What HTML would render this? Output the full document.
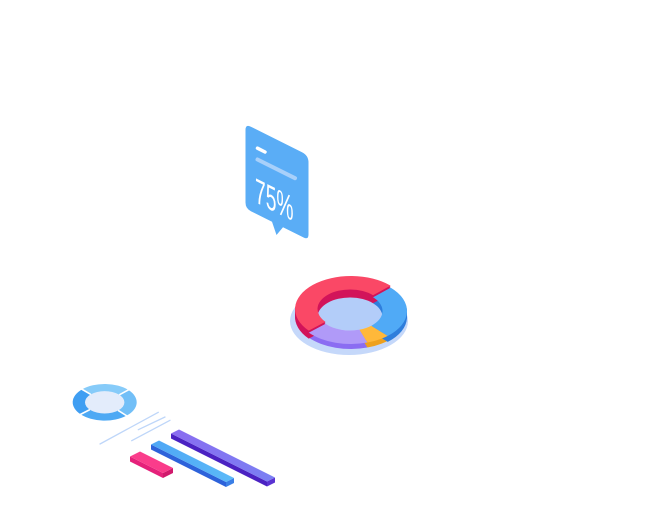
<!DOCTYPE html>
<html>
<head>
<meta charset="utf-8">
<style>
  html, body { margin: 0; padding: 0; background: #ffffff; }
  body { width: 671px; height: 505px; overflow: hidden; }
  svg { display: block; }
</style>
</head>
<body>
<svg width="671" height="505" viewBox="0 0 671 505" xmlns="http://www.w3.org/2000/svg">
  <defs>
    <path id="segR" d="M308.74,332.65 A56,33 0 0 1 390.60,287.67 L372.98,297.21 A32.5,19.5 0 0 0 325.47,323.79 Z"/>
    <path id="segB" d="M390.60,287.67 A56,33 0 0 1 387.74,335.91 L371.32,325.72 A32.5,19.5 0 0 0 372.98,297.21 Z"/>
    <path id="segY" d="M387.74,335.91 A56,33 0 0 1 367.37,342.56 L359.50,329.65 A32.5,19.5 0 0 0 371.32,325.72 Z"/>
    <path id="segP" d="M367.37,342.56 A56,33 0 0 1 308.74,332.65 L325.47,323.79 A32.5,19.5 0 0 0 359.50,329.65 Z"/>
    <linearGradient id="gPurple" x1="0" y1="0" x2="1" y2="0">
      <stop offset="0" stop-color="#8a6cf0"/>
      <stop offset="1" stop-color="#7a80f3"/>
    </linearGradient>
    <linearGradient id="gBlue" x1="0" y1="0" x2="1" y2="0">
      <stop offset="0" stop-color="#4ea6f5"/>
      <stop offset="1" stop-color="#5cbaf8"/>
    </linearGradient>
    <linearGradient id="gPink" x1="0" y1="0" x2="1" y2="0">
      <stop offset="0" stop-color="#fb3f8c"/>
      <stop offset="1" stop-color="#f93a8a"/>
    </linearGradient>
  </defs>

  <!-- ===== Card with 75% ===== -->
  <path d="M245.5,130 Q245.5,124 250.9,126.7 L302,152.3 Q308.5,155.5 308.5,162.5 L308.5,234.5 Q308.5,240 303.6,237.5 L283,227.25 L276.5,235 L272,221.75 L250.9,211.2 Q245.5,208.5 245.5,202.5 Z" fill="#5aadf6"/>
  <line x1="257.5" y1="148.2" x2="265" y2="152" stroke="#ffffff" stroke-width="3.5" stroke-linecap="round"/>
  <line x1="257.5" y1="159.5" x2="295" y2="178.2" stroke="#a8d0fa" stroke-width="4" stroke-linecap="round"/>
  <g transform="translate(255,202) skewY(26.565) scale(0.55,1)">
    <text x="0" y="0" font-family="Liberation Sans, sans-serif" font-size="35" fill="#ffffff">75%</text>
  </g>

  <!-- ===== 3D donut chart ===== -->
  <ellipse cx="349" cy="321" rx="59" ry="34" fill="#c5d8fa"/>
  <ellipse cx="350" cy="311" rx="32.5" ry="19.5" fill="#b3cdf9"/>

  <g>
    <use href="#segP" transform="translate(0,5)" fill="#8b6df2"/>
    <use href="#segP" transform="translate(0,4)" fill="#8b6df2"/>
    <use href="#segP" transform="translate(0,3)" fill="#8b6df2"/>
    <use href="#segP" transform="translate(0,2)" fill="#8b6df2"/>
    <use href="#segP" transform="translate(0,1)" fill="#8b6df2"/>

    <use href="#segY" transform="translate(0,5)" fill="#eea11e"/>
    <use href="#segY" transform="translate(0,4)" fill="#eea11e"/>
    <use href="#segY" transform="translate(0,3)" fill="#eea11e"/>
    <use href="#segY" transform="translate(0,2)" fill="#eea11e"/>
    <use href="#segY" transform="translate(0,1)" fill="#eea11e"/>

    <use href="#segB" transform="translate(0,6)" fill="#2f7edc"/>
    <use href="#segB" transform="translate(0,5)" fill="#2f7edc"/>
    <use href="#segB" transform="translate(0,4)" fill="#2f7edc"/>
    <use href="#segB" transform="translate(0,3)" fill="#2f7edc"/>
    <use href="#segB" transform="translate(0,2)" fill="#2f7edc"/>
    <use href="#segB" transform="translate(0,1)" fill="#2f7edc"/>

    <use href="#segR" transform="translate(0,6)" fill="#d2145a"/>
    <use href="#segR" transform="translate(0,5)" fill="#d2145a"/>
    <use href="#segR" transform="translate(0,4)" fill="#d2145a"/>
    <use href="#segR" transform="translate(0,3)" fill="#d2145a"/>
    <use href="#segR" transform="translate(0,2)" fill="#d2145a"/>
    <use href="#segR" transform="translate(0,1)" fill="#d2145a"/>
  </g>
  <use href="#segP" fill="#b09af8"/>
  <use href="#segY" fill="#ffb83a"/>
  <use href="#segB" fill="#50aaf6"/>
  <use href="#segR" transform="translate(0,0)" fill="#d2145a"/>
  <use href="#segR" transform="translate(0,-1)" fill="#d2145a"/>
  <use href="#segR" transform="translate(0,-2)" fill="#fa4866"/>

  <!-- ===== small flat donut ===== -->
  <path d="M104.7,402.3 L82.07,389.36 A32,18.3 0 0 1 128.48,390.06 Z" fill="#86cbf9"/>
  <path d="M104.7,402.3 L128.48,390.06 A32,18.3 0 0 1 126.52,415.68 Z" fill="#72bff7"/>
  <path d="M104.7,402.3 L126.52,415.68 A32,18.3 0 0 1 80.55,414.31 Z" fill="#4ea9f4"/>
  <path d="M104.7,402.3 L80.55,414.31 A32,18.3 0 0 1 82.07,389.36 Z" fill="#3f9ef2"/>
  <ellipse cx="104.7" cy="402.3" rx="19.7" ry="11.2" fill="#e3ecfb"/>
  <g stroke="#ffffff" stroke-width="1.6">
    <line x1="90.77" y1="394.38" x2="81.5" y2="389"/>
    <line x1="119.34" y1="394.81" x2="129" y2="389.6"/>
    <line x1="89.83" y1="409.65" x2="80" y2="414.6"/>
    <line x1="118.14" y1="410.49" x2="127" y2="416"/>
  </g>

  <g stroke="#bed6f9" stroke-width="1.3" stroke-linecap="round">
    <line x1="100" y1="444" x2="158.3" y2="412.3"/>
    <line x1="138.3" y1="429.7" x2="165" y2="417"/>
    <line x1="131.7" y1="440.7" x2="170" y2="420.3"/>
  </g>

  <!-- ===== bars ===== -->
  <polygon points="130,456.5 163,473 163,478 130,461.5" fill="#e5217a"/>
  <polygon points="163,473 173,468 173,473 163,478" fill="#d01a6c"/>
  <polygon points="130,456.5 140,451.5 173,468 163,473" fill="url(#gPink)"/>
  <polygon points="151,444.5 226,482 226,487 151,449.5" fill="#2d62da"/>
  <polygon points="226,482 234,478 234,483 226,487" fill="#3a7fe6"/>
  <polygon points="151,444.5 159,440.5 234,478 226,482" fill="url(#gBlue)"/>
  <polygon points="171,433.5 267,481.5 267,486.5 171,438.5" fill="#4b22c2"/>
  <polygon points="267,481.5 275,477.5 275,482.5 267,486.5" fill="#5a33d2"/>
  <polygon points="171,433.5 179,429.5 275,477.5 267,481.5" fill="url(#gPurple)"/>
</svg>
</body>
</html>
